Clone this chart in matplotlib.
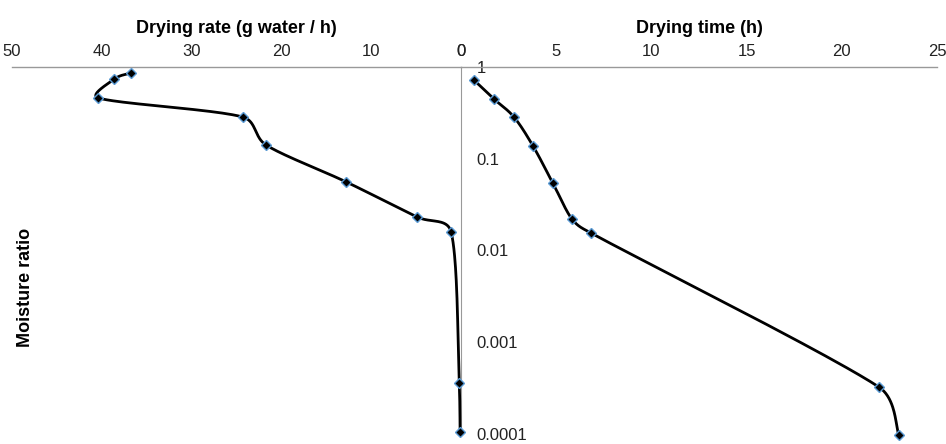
import numpy as np
import matplotlib
matplotlib.use("Agg")
import matplotlib.pyplot as plt

plt.rcParams['font.family'] = ['Liberation Sans', 'DejaVu Sans']

# drying rate (g water / h) vs moisture ratio
rate = [36.8, 38.6, 40.4, 24.3, 21.7, 12.8, 4.9, 1.1, 0.2, 0.1]
mr_rate = [0.86, 0.74, 0.46, 0.285, 0.141, 0.056, 0.0232, 0.0159, 0.00036, 0.000105]

# drying time (h) vs moisture ratio
time_h = [0.68, 1.73, 2.78, 3.78, 4.83, 5.83, 6.83, 21.95, 23.0]
mr_time = [0.72, 0.448, 0.285, 0.138, 0.054, 0.022, 0.0155, 0.000325, 0.0000965]

yticks = [1, 0.1, 0.01, 0.001, 0.0001]
ytick_labels = ['1', '0.1', '0.01', '0.001', '0.0001']
rate_ticks = [50, 40, 30, 20, 10, 0]
time_ticks = [0, 5, 10, 15, 20, 25]

W, H = 946, 444
fig = plt.figure(figsize=(W / 100, H / 100), dpi=100)

top = 1 - 67 / H
bot = 1 - 434 / H
ax1 = fig.add_axes([12 / W, bot, (461 - 12) / W, top - bot])
ax2 = fig.add_axes([461 / W, bot, (937 - 461) / W, top - bot], sharey=ax1)

grey = '#999999'


def smooth(ax, xs, ys, n=40, cap=0.4):
    # smoothed line like a spreadsheet chart: catmull-rom bezier in screen
    # space, handles capped so short segments don't loop back
    p = ax.transData.transform(np.column_stack([xs, ys]))
    m = len(p)
    h = np.zeros_like(p)
    for i in range(m):
        h[i] = (p[min(i + 1, m - 1)] - p[max(i - 1, 0)]) / 6
    out = []
    t = np.linspace(0, 1, n)[:, None]
    for i in range(m - 1):
        p1, p2 = p[i], p[i + 1]
        L = np.hypot(*(p2 - p1))
        a, b = h[i].copy(), h[i + 1].copy()
        if np.hypot(*a) > cap * L:
            a *= cap * L / np.hypot(*a)
        if np.hypot(*b) > cap * L:
            b *= cap * L / np.hypot(*b)
        c1 = p1 + a
        c2 = p2 - b
        seg = ((1 - t) ** 3 * p1 + 3 * (1 - t) ** 2 * t * c1
               + 3 * (1 - t) * t ** 2 * c2 + t ** 3 * p2)
        out.append(seg)
    out = np.vstack(out)
    d = ax.transData.inverted().transform(out)
    return d[:, 0], d[:, 1]


for ax in (ax1, ax2):
    ax.set_yscale('log')
    ax.xaxis.tick_top()
    ax.xaxis.set_label_position('top')
    ax.tick_params(axis='x', length=0, pad=6, labelsize=12, colors='#222222')
    for s in ax.spines.values():
        s.set_visible(False)
    ax.spines['top'].set_visible(True)
    ax.spines['top'].set_color(grey)
    ax.spines['top'].set_linewidth(1)
    ax.patch.set_alpha(0)

ax1.set_ylim(1e-4, 1)
ax1.set_xlim(50, 0)
ax1.set_xticks(rate_ticks)
ax1.set_xticklabels([str(v) for v in rate_ticks])
ax2.set_xlim(0, 25)
ax2.set_xticks(time_ticks)
ax2.set_xticklabels([str(v) for v in time_ticks])

ax1.spines['right'].set_visible(True)
ax1.spines['right'].set_color(grey)
ax1.tick_params(axis='y', which='both', left=False, labelleft=False)
ax1.yaxis.set_minor_locator(matplotlib.ticker.NullLocator())

ax2.set_yticks(yticks)
ax2.set_yticklabels(ytick_labels)
ax2.yaxis.set_minor_locator(matplotlib.ticker.NullLocator())
ax2.tick_params(axis='y', which='both', length=0, pad=-11, labelsize=12, colors='#222222')
for lab in ax2.get_yticklabels():
    lab.set_ha('left')

ax1.set_xlabel('Drying rate (g water / h)', fontsize=13, fontweight='bold', labelpad=8)
ax2.set_xlabel('Drying time (h)', fontsize=13, fontweight='bold', labelpad=8)
fig.text(25 / W, 1 - 287 / H, 'Moisture ratio', rotation=90, ha='center', va='center',
         fontsize=13, fontweight='bold')

mk = dict(marker='D', markersize=5.5, markerfacecolor='black', markeredgecolor='#5b9bd5',
          markeredgewidth=1, linestyle='none', clip_on=False, zorder=4)

sx, sy = smooth(ax1, rate, mr_rate)
ax1.plot(sx, sy, color='black', lw=2, clip_on=False, zorder=3)
ax1.plot(rate, mr_rate, **mk)

sx, sy = smooth(ax2, time_h, mr_time)
ax2.plot(sx, sy, color='black', lw=2, clip_on=False, zorder=3)
ax2.plot(time_h, mr_time, **mk)

ax1.set_xlim(50, 0)
ax2.set_xlim(0, 25)
ax1.set_ylim(1e-4, 1)

fig.savefig('out.png', dpi=100)
